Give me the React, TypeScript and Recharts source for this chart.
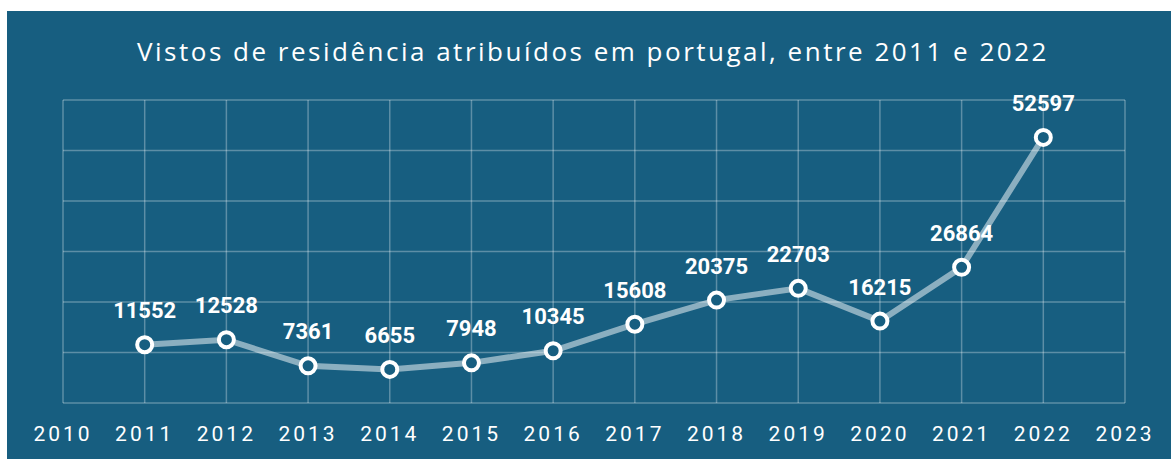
import { LineChart, Line, XAxis, YAxis, CartesianGrid } from "recharts";

const years = [2011, 2012, 2013, 2014, 2015, 2016, 2017, 2018, 2019, 2020, 2021, 2022];
const vistos = [11552, 12528, 7361, 6655, 7948, 10345, 15608, 20375, 22703, 16215, 26864, 52597];
const xTicks = [2010, 2011, 2012, 2013, 2014, 2015, 2016, 2017, 2018, 2019, 2020, 2021, 2022, 2023];
const yTicks = [0, 10000, 20000, 30000, 40000, 50000, 60000];

const BG = "#175e80";

const data = years.map((year, i) => ({ year, vistos: vistos[i] }));

function YearTick({ x, y, payload }: { x?: number; y?: number; payload?: { value: number } }) {
  return (
    <text
      x={x}
      y={(y ?? 0) + 31}
      textAnchor="middle"
      dominantBaseline="central"
      fill="#ffffff"
      fontFamily="Roboto, sans-serif"
      fontSize={21}
      letterSpacing={3}
    >
      {payload?.value}
    </text>
  );
}

function ValueLabel(props: { x?: number; y?: number; value?: number }) {
  const { x = 0, y = 0, value } = props;
  return (
    <text
      x={x}
      y={y - 34}
      textAnchor="middle"
      dominantBaseline="central"
      fill="#ffffff"
      fontFamily="Roboto, sans-serif"
      fontWeight={700}
      fontSize={22}
    >
      {value}
    </text>
  );
}

export default function App() {
  return (
    <div
      style={{
        position: "absolute",
        left: 7,
        top: 11,
        width: 1164,
        height: 448,
        background: BG,
      }}
    >
      <div
        style={{
          position: "absolute",
          left: 0,
          right: 0,
          top: 20,
          height: 40,
          lineHeight: "40px",
          textAlign: "center",
          color: "#ffffff",
          fontFamily: "'Open Sans', sans-serif",
          fontSize: 26,
          letterSpacing: 2.5,
          paddingLeft: 8,
        }}
      >
        Vistos de residência atribuídos em portugal, entre 2011 e 2022
      </div>
      <LineChart
        width={1164}
        height={448}
        data={data}
        margin={{ top: 89, right: 46, left: 56, bottom: 0 }}
      >
        <CartesianGrid stroke="rgba(255,255,255,0.3)" strokeWidth={1.5} horizontal vertical />
        <XAxis
          dataKey="year"
          type="number"
          domain={[2010, 2023]}
          ticks={xTicks}
          interval={0}
          height={56}
          axisLine={false}
          tickLine={false}
          tickSize={0}
          tickMargin={0}
          tick={<YearTick />}
        />
        <YAxis
          type="number"
          domain={[0, 60000]}
          ticks={yTicks}
          interval={0}
          hide
        />
        <Line
          dataKey="vistos"
          stroke="rgba(255,255,255,0.5)"
          strokeWidth={6}
          dot={{ r: 7.5, fill: BG, stroke: "#ffffff", strokeWidth: 4 }}
          label={<ValueLabel />}
          isAnimationActive={false}
        />
      </LineChart>
    </div>
  );
}
